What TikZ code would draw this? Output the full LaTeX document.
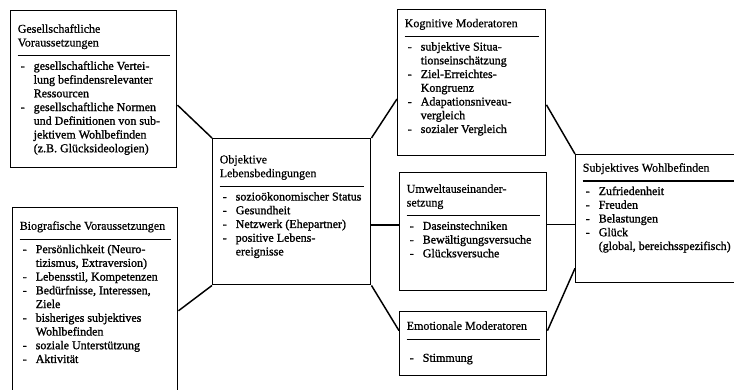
\documentclass[tikz,border=0pt]{standalone}
\usepackage{fontspec}
\setmainfont{Liberation Serif}
\newfontfamily\titlefont{Liberation Serif}[FakeBold=0.6]
\newfontfamily\itemfont{Liberation Serif}[FakeBold=1.2]
\usepackage{tikz}
\usetikzlibrary{calc}

\newlength{\itmind}\setlength{\itmind}{12pt}
\newlength{\boxpad}\setlength{\boxpad}{5.25pt}
% box content: [top gap]{width}{height}{title}{items}
\newcommand{\modbox}[5][7.5pt]{%
  \parbox[t][#3][t]{#2}{%
    \fontsize{9pt}{10.3pt}\selectfont
    \leftskip=\boxpad \rightskip=0pt plus 1fil
    \parindent=0pt \parfillskip=0pt plus 1fil \hyphenpenalty=10000
    \vspace*{#1}\strut{\titlefont #4}\strut\par
    \nointerlineskip\vspace{3.5pt}%
    \rule{\dimexpr#2-2\boxpad\relax}{0.8pt}\par
    \nointerlineskip\vspace{2.9pt}%
    \itemfont #5}}
\newcommand{\itm}[1]{\par\hangindent=\itmind\hangafter=1
  \makebox[\itmind][l]{\hspace{2.25pt}-}\strut #1\par}

\begin{document}
\begin{tikzpicture}[x=0.75pt,y=-0.75pt]
  \tikzset{modul/.style={draw,line width=1.1pt,inner sep=0pt,anchor=north west},
    link/.style={line width=1.1pt}}
  \useasboundingbox (0,0) rectangle (734,389);
  \clip (0,0) rectangle (734,389);
  \node[modul] (gesell) at (10,10) {\modbox[9.3pt]{124.5pt}{117.75pt}
    {Gesellschaftliche\\Voraussetzungen}
    {\itm{gesellschaftliche Vertei-\\lung befindensrelevanter\\Ressourcen}
     \itm{gesellschaftliche Normen\\und Definitionen von sub-\\jektivem Wohlbefinden\\(z.B. Glücksideologien)}}};
  \node[modul] (biogr) at (12,207) {\modbox[9.3pt]{123.75pt}{142.5pt}
    {Biografische Voraussetzungen}
    {\itm{Persönlichkeit (Neuro-\\tizismus, Extraversion)}
     \itm{Lebensstil, Kompetenzen}
     \itm{Bedürfnisse, Interessen,\\Ziele}
     \itm{bisheriges subjektives\\Wohlbefinden}
     \itm{soziale Unterstützung}
     \itm{Aktivität}}};
  \node[modul] (objekt) at (212,138) {\modbox[11.3pt]{118.5pt}{109.5pt}
    {Objektive\\Lebensbedingungen}
    {\itm{sozioökonomischer Status}
     \itm{Gesundheit}
     \itm{Netzwerk (Ehepartner)}
     \itm{positive Lebens-\\ereignisse}}};
  \node[modul] (kognit) at (397,9) {\modbox[5.9pt]{111pt}{109.5pt}
    {Kognitive Moderatoren}
    {\itm{subjektive Situa-\\tionseinschätzung}
     \itm{Ziel-Erreichtes-\\Kongruenz}
     \itm{Adapationsniveau-\\vergleich}
     \itm{sozialer Vergleich}}};
  \node[modul] (umwelt) at (399,172) {\modbox[7.8pt]{110.25pt}{88.5pt}
    {Umweltauseinander-\\setzung}
    {\itm{Daseinstechniken}
     \itm{Bewältigungsversuche}
     \itm{Glücksversuche}}};
  \node[modul] (emotio) at (399,311) {\modbox[6.3pt]{110.25pt}{48pt}
    {Emotionale Moderatoren}
    {\vspace{6.5pt}\itm{Stimmung}}};
  \node[modul] (subjekt) at (575,154) {\modbox[5.5pt]{127.5pt}{96pt}
    {Subjektives Wohlbefinden}
    {\itm{Zufriedenheit}
     \itm{Freuden}
     \itm{Belastungen}
     \itm{Glück\\(global, bereichsspezifisch)}}};
  % connectors
  \coordinate (gOut) at ($(gesell.north east)!0.6!(gesell.south east)$);
  \coordinate (bOut) at ($(biogr.north east)!0.542!(biogr.south east)$);
  \coordinate (kIn) at ($(kognit.north west)!0.61!(kognit.south west)$);
  \coordinate (kOut) at ($(kognit.north east)!0.65!(kognit.south east)$);
  \coordinate (oOut) at ($(objekt.north east)!0.59!(objekt.south east)$);
  \coordinate (uOut) at ($(umwelt.north east)!0.44!(umwelt.south east)$);
  \coordinate (eIn) at ($(emotio.north west)!0.3!(emotio.south west)$);
  \coordinate (eOut) at ($(emotio.north east)!0.3!(emotio.south east)$);
  \coordinate (sIn) at ($(subjekt.north west)!0.883!(subjekt.south west)$);
  \draw[link] (gOut) -- (objekt.north west);
  \draw[link] (bOut) -- (objekt.south west);
  \draw[link] (objekt.north east) -- (kIn);
  \draw[link] (oOut) -- (oOut -| umwelt.west);
  \draw[link] (objekt.south east) -- (eIn);
  \draw[link] (kOut) -- (subjekt.north west);
  \draw[link] (uOut) -- (uOut -| subjekt.west);
  \draw[link] (eOut) -- (sIn);
\end{tikzpicture}
\end{document}
